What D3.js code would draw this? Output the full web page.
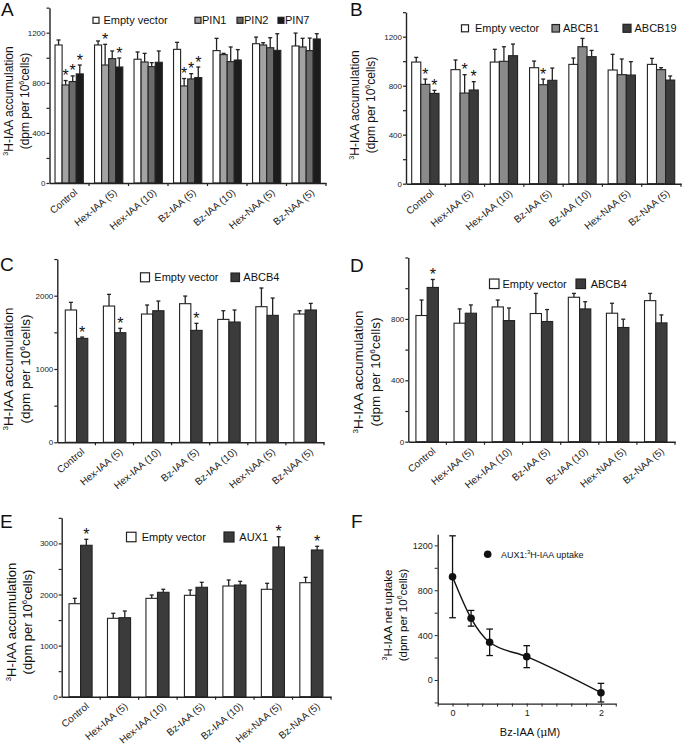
<!DOCTYPE html>
<html><head><meta charset="utf-8">
<script src="https://cdn.jsdelivr.net/npm/d3@7"></script>
<style>body{margin:0;background:#fff}svg{display:block;font-family:Arial,"Liberation Sans",sans-serif}</style>
</head><body><svg id="c" width="685" height="749"></svg>
<script>
// ---------------- DATA ----------------
const categories = ["Control","Hex-IAA (5)","Hex-IAA (10)","Bz-IAA (5)","Bz-IAA (10)","Hex-NAA (5)","Bz-NAA (5)"];

// Panel A
const aEmpty    = [1102,1102,988,1067,1057,1112,1094];
const aEmptyErr = [40,32,58,56,98,53,103];
const aPIN1     = [783,942,966,775,1025,1102,1086];
const aPIN1Err  = [35,165,69,59,10,18,69];
const aPIN2     = [810,993,929,831,969,1080,1057];
const aPIN2Err  = [45,61,32,42,117,80,100];
const aPIN7     = [871,926,964,842,982,1059,1150];
const aPIN7Err  = [71,72,90,84,83,133,42];
const aStars    = [[0,1],[0,2],[0,3],[1,1],[1,3],[3,1],[3,2],[3,3]];

// Panel B
const bEmpty    = [993,931,993,947,974,928,974];
const bEmptyErr = [38,79,104,54,52,128,49];
const bABCB1    = [811,740,999,808,1118,890,931];
const bABCB1Err = [43,150,119,46,68,128,16];
const bABCB19   = [737,765,1045,844,1037,887,846];
const bABCB19Err= [25,68,95,100,51,109,33];
const bStars    = [[0,1],[0,2],[1,1],[1,2],[3,1]];

// Panel C
const cEmpty    = [1805,1859,1750,1891,1677,1850,1750];
const cEmptyErr = [104,159,123,104,118,255,45];
const cABCB4    = [1418,1495,1795,1527,1641,1732,1805];
const cABCB4Err = [18,60,132,96,164,236,90];
const cStars    = [[0,1],[1,1],[3,1]];

// Panel D
const dEmpty    = [822,772,878,835,941,837,919];
const dEmptyErr = [101,93,45,131,25,65,47];
const dABCB4    = [1005,837,789,783,865,744,774];
const dABCB4Err = [52,54,82,78,47,54,52];
const dStars    = [[0,1]];

// Panel E
const eEmpty    = [1820,1534,1925,1984,2166,2102,2231];
const eEmptyErr = [105,98,65,104,118,117,105];
const eAUX1     = [2963,1546,2043,2141,2186,2930,2871];
const eAUX1Err  = [117,131,59,98,72,201,72];
const eStars    = [[0,1],[5,1],[6,1]];

// Panel F
const fConc   = [0,0.25,0.5,1,2];
const fUptake = [920,550,336,208,-113];
const fErr    = [365,70,118,98,83];

// ---------------- DRAW ----------------
const svg = d3.select("#c");
const INK = "#222";
const WHITE = "#ffffff", PIN1C = "#a3a3a3", PIN2C = "#6b6b6b", PIN7C = "#1c1c1c";
const MID = "#8a8a8a", DARK = "#3b3b3b";

function letter(t, x, y){
  svg.append("text").attr("x",x).attr("y",y).attr("font-size",19).attr("fill","#111").text(t);
}

function yLabel(lines, x1, x2, cy, fs){
  const t1 = svg.append("text").attr("transform",`translate(${x1},${cy}) rotate(-90)`)
    .attr("text-anchor","middle").attr("font-size",fs).attr("fill","#111");
  lines[0](t1, fs);
  const t2 = svg.append("text").attr("transform",`translate(${x2},${cy}) rotate(-90)`)
    .attr("text-anchor","middle").attr("font-size",fs).attr("fill","#111");
  lines[1](t2, fs);
}
function sup3(t, fs, rest){
  t.append("tspan").attr("font-size",fs*0.6).attr("dy",-fs*0.4).text("3");
  t.append("tspan").attr("dy",fs*0.4).text(rest);
}
function dpm(t, fs){
  t.append("tspan").text("(dpm per 10");
  t.append("tspan").attr("font-size",fs*0.6).attr("dy",-fs*0.4).text("6");
  t.append("tspan").attr("dy",fs*0.4).text("cells)");
}

function barPanel(o){
  const g = svg.append("g");
  const x = d3.scaleBand().domain(categories).range([o.left, o.right]);
  const bw = x.bandwidth();
  const sub = d3.scaleBand().domain(o.series.map(s=>s.name)).range([o.sub0*bw, o.sub1*bw]);
  const y = d3.scaleLinear().domain([0, o.ymax]).range([o.y0, o.ytop]);

  o.series.forEach((s, si) => {
    const sg = g.append("g");
    const data = s.values.map((v,i)=>({v, e:s.err[i], c:categories[i]}));
    sg.selectAll("line.e").data(data).join("line")
      .attr("x1", d=>x(d.c)+sub(s.name)+sub.bandwidth()/2)
      .attr("x2", d=>x(d.c)+sub(s.name)+sub.bandwidth()/2)
      .attr("y1", d=>y(d.v)).attr("y2", d=>y(d.v+d.e))
      .attr("stroke", INK).attr("stroke-width",1.3);
    sg.selectAll("line.cap").data(data).join("line")
      .attr("x1", d=>x(d.c)+sub(s.name)+sub.bandwidth()/2-2)
      .attr("x2", d=>x(d.c)+sub(s.name)+sub.bandwidth()/2+2)
      .attr("y1", d=>y(d.v+d.e)).attr("y2", d=>y(d.v+d.e))
      .attr("stroke", INK).attr("stroke-width",1.3);
    sg.selectAll("rect").data(data).join("rect")
      .attr("x", d=>x(d.c)+sub(s.name))
      .attr("y", d=>y(d.v))
      .attr("width", sub.bandwidth())
      .attr("height", d=>y(0)-y(d.v))
      .attr("fill", s.color).attr("stroke", INK).attr("stroke-width",1.1);
  });
  // stars
  o.stars.forEach(([gi, si])=>{
    const s = o.series[si];
    const cx = x(categories[gi]) + sub(s.name) + sub.bandwidth()/2;
    g.append("text").attr("x",cx).attr("y", y(s.values[gi]+s.err[gi]) + 0.5)
      .attr("text-anchor","middle").attr("font-size",16).attr("fill","#111").text("*");
  });
  // y axis
  const ticks = d3.range(0, o.ymax + 1e-6, o.minor);
  const ya = d3.axisLeft(y).tickValues(ticks).tickSize(3).tickSizeOuter(0)
    .tickFormat(d => (d % o.major === 0 && d < o.ymax) ? d : "");
  const yg = g.append("g").attr("transform",`translate(${o.left},0)`).call(ya);
  yg.select(".domain").attr("stroke",INK).attr("stroke-width",1.4);
  yg.selectAll(".tick line").attr("stroke",INK).attr("stroke-width",1.2);
  yg.selectAll(".tick text").attr("font-size",o.tfs||8).attr("fill","#222").attr("x",-4).attr("font-family","Arial, 'Liberation Sans', sans-serif");
  // x axis
  const xa = d3.axisBottom(x).tickSize(0).tickSizeOuter(0);
  const xg = g.append("g").attr("transform",`translate(0,${o.y0})`).call(xa);
  xg.select(".domain").attr("stroke",INK).attr("stroke-width",1.4);
  xg.selectAll(".tick text").attr("font-size",10).attr("fill","#222")
    .attr("font-family","Arial, 'Liberation Sans', sans-serif")
    .attr("text-anchor","end")
    .attr("transform",`translate(5,6) rotate(-40)`)
    .attr("x",0).attr("y",0).attr("dy","0.6em");
  // boundary ticks
  g.append("g").selectAll("line").data(categories.slice(1).concat(["__end"])).join("line")
    .attr("x1", d=> d==="__end" ? o.right : x(d)).attr("x2", d=> d==="__end" ? o.right : x(d))
    .attr("y1", o.y0).attr("y2", o.y0+3).attr("stroke",INK).attr("stroke-width",1.2);
  // legend
  o.legend.forEach(l=>{
    g.append("rect").attr("x",l.bx).attr("y",o.ly-l.bs/2).attr("width",l.bs).attr("height",l.bs)
      .attr("fill",l.color).attr("stroke",INK).attr("stroke-width",1.2);
    g.append("text").attr("x",l.tx).attr("y",o.ly+4).attr("font-size",11).attr("fill","#111").text(l.text);
  });
}

// Panel A
barPanel({left:49.5, right:326, y0:183, ytop:183-1400*0.12525, ymax:1400, minor:200, major:400,
  sub0:0.14, sub1:0.856,
  series:[{name:"Empty vector",values:aEmpty,err:aEmptyErr,color:WHITE},
          {name:"PIN1",values:aPIN1,err:aPIN1Err,color:PIN1C},
          {name:"PIN2",values:aPIN2,err:aPIN2Err,color:PIN2C},
          {name:"PIN7",values:aPIN7,err:aPIN7Err,color:PIN7C}],
  stars:aStars, ly:20.3,
  legend:[{bx:93,bs:6,tx:103.5,text:"Empty vector",color:WHITE},
          {bx:195,bs:6,tx:202,text:"PIN1",color:PIN1C},
          {bx:237,bs:6,tx:244,text:"PIN2",color:PIN2C},
          {bx:278,bs:6,tx:285,text:"PIN7",color:PIN7C}]});

// Panel B
barPanel({left:406, right:681, y0:183.7, ytop:183.7-1400*0.1225, ymax:1400, minor:200, major:400,
  sub0:0.145, sub1:0.84,
  series:[{name:"Empty vector",values:bEmpty,err:bEmptyErr,color:WHITE},
          {name:"ABCB1",values:bABCB1,err:bABCB1Err,color:MID},
          {name:"ABCB19",values:bABCB19,err:bABCB19Err,color:DARK}],
  stars:bStars, ly:28.3,
  legend:[{bx:461.5,bs:7,tx:475,text:"Empty vector",color:WHITE},
          {bx:552,bs:7.5,tx:563,text:"ABCB1",color:MID},
          {bx:623,bs:8,tx:634.5,text:"ABCB19",color:DARK}]});

// Panel C
barPanel({left:57.3, right:324, y0:442.3, ytop:442.3-2500*0.0733, ymax:2500, minor:500, major:1000,
  sub0:0.21, sub1:0.8,
  series:[{name:"Empty vector",values:cEmpty,err:cEmptyErr,color:WHITE},
          {name:"ABCB4",values:cABCB4,err:cABCB4Err,color:DARK}],
  stars:cStars, ly:277.3,
  legend:[{bx:140.5,bs:9,tx:154.3,text:"Empty vector",color:WHITE},
          {bx:231,bs:8.5,tx:243.3,text:"ABCB4",color:DARK}]});

// Panel D
barPanel({left:408.3, right:675, y0:441.7, ytop:441.7-1200*0.1535, ymax:1200, minor:200, major:400,
  sub0:0.2, sub1:0.79,
  series:[{name:"Empty vector",values:dEmpty,err:dEmptyErr,color:WHITE},
          {name:"ABCB4",values:dABCB4,err:dABCB4Err,color:DARK}],
  stars:dStars, ly:283.8,
  legend:[{bx:489.5,bs:9.5,tx:502.5,text:"Empty vector",color:WHITE},
          {bx:576,bs:9.5,tx:590.7,text:"ABCB4",color:DARK}]});

// Panel E
barPanel({left:61.7, right:331, y0:696.7, ytop:696.7-3500*0.0511, ymax:3500, minor:500, major:1000,
  sub0:0.19, sub1:0.79,
  series:[{name:"Empty vector",values:eEmpty,err:eEmptyErr,color:WHITE},
          {name:"AUX1",values:eAUX1,err:eAUX1Err,color:DARK}],
  stars:eStars, ly:537,
  legend:[{bx:126.5,bs:9.5,tx:141.7,text:"Empty vector",color:WHITE},
          {bx:224,bs:10,tx:239.3,text:"AUX1",color:DARK}]});

// Panel F
(function(){
  const g = svg.append("g");
  const x = d3.scaleLinear().domain([-0.2, 2.2]).range([437.7, 437.7+2.4*74.2]);
  const y = d3.scaleLinear().domain([-210, 1300]).range([680+210*0.1122, 680-1300*0.1122]);
  const pts = fConc.map((c,i)=>({c, v:fUptake[i], e:fErr[i]}));
  g.append("path").datum(pts).attr("fill","none").attr("stroke","#111").attr("stroke-width",1.4)
    .attr("d", d3.line().x(d=>x(d.c)).y(d=>y(d.v)).curve(d3.curveMonotoneX));
  g.selectAll("line.e").data(pts).join("line").attr("x1",d=>x(d.c)).attr("x2",d=>x(d.c))
    .attr("y1",d=>y(d.v-d.e)).attr("y2",d=>y(d.v+d.e)).attr("stroke","#111").attr("stroke-width",1.3);
  ["-","+"].forEach(sg=>{
    g.selectAll("line.c"+(sg==="+"?"p":"m")).data(pts).join("line")
      .attr("x1",d=>x(d.c)-3.3).attr("x2",d=>x(d.c)+3.3)
      .attr("y1",d=>y(sg==="+"?d.v+d.e:d.v-d.e)).attr("y2",d=>y(sg==="+"?d.v+d.e:d.v-d.e))
      .attr("stroke","#111").attr("stroke-width",1.3);
  });
  g.selectAll("circle").data(pts).join("circle").attr("cx",d=>x(d.c)).attr("cy",d=>y(d.v)).attr("r",3.8).attr("fill","#111");
  const ya = d3.axisLeft(y).tickValues(d3.range(-200, 1300.1, 200)).tickSize(3).tickSizeOuter(0)
    .tickFormat(d => d % 400 === 0 ? d : "");
  const yg = g.append("g").attr("transform",`translate(${x.range()[0]},0)`).call(ya);
  yg.select(".domain").attr("stroke",INK).attr("stroke-width",1.3);
  yg.selectAll(".tick line").attr("stroke",INK);
  yg.selectAll(".tick text").attr("font-size",9).attr("fill","#222").attr("x",-5).attr("font-family","Arial, 'Liberation Sans', sans-serif");
  const xa = d3.axisBottom(x).tickValues(d3.range(-0.2, 2.21, 0.2).map(v=>Math.round(v*10)/10)).tickSize(3).tickSizeOuter(0)
    .tickFormat(d => Number.isInteger(d) ? d : "");
  const xg = g.append("g").attr("transform",`translate(0,${y.range()[0]})`).call(xa);
  xg.select(".domain").attr("stroke",INK).attr("stroke-width",1.3);
  xg.selectAll(".tick line").attr("stroke",INK);
  xg.selectAll(".tick text").attr("font-size",9).attr("fill","#222").attr("y",6).attr("font-family","Arial, 'Liberation Sans', sans-serif");
  // legend
  g.append("circle").attr("cx",487.7).attr("cy",554.3).attr("r",3.8).attr("fill","#111");
  const lt = g.append("text").attr("x",501).attr("y",558.3).attr("font-size",9).attr("fill","#111");
  lt.append("tspan").text("AUX1:");
  lt.append("tspan").attr("font-size",6).attr("dy",-4).text("3");
  lt.append("tspan").attr("dy",4).text("H-IAA uptake");
  // x label
  const xl = g.append("text").attr("x",530).attr("y",736).attr("text-anchor","middle").attr("font-size",11).attr("fill","#111");
  xl.append("tspan").text("Bz-IAA (");
  xl.append("tspan").attr("font-family","'DejaVu Serif', serif").text("\u03bc");
  xl.append("tspan").text("M)");
})();

// letters
letter("A",1,16); letter("B",350,16); letter("C",0,271); letter("D",350,272); letter("E",0,528); letter("F",351,528);

// y labels
yLabel([(t,fs)=>sup3(t,fs,"H-IAA accumulation"), dpm], 13, 29, 101, 12);
yLabel([(t,fs)=>sup3(t,fs,"H-IAA accumulation"), dpm], 359, 375, 105, 12);
yLabel([(t,fs)=>sup3(t,fs,"H-IAA accumulation"), dpm], 13, 30, 369, 13.5);
yLabel([(t,fs)=>sup3(t,fs,"H-IAA accumulation"), dpm], 363, 380, 372, 13.5);
yLabel([(t,fs)=>sup3(t,fs,"H-IAA accumulation"), dpm], 16, 32, 622, 13);
yLabel([(t,fs)=>sup3(t,fs,"H-IAA net uptake"), dpm], 392, 407, 615, 11.5);
</script></body></html>
